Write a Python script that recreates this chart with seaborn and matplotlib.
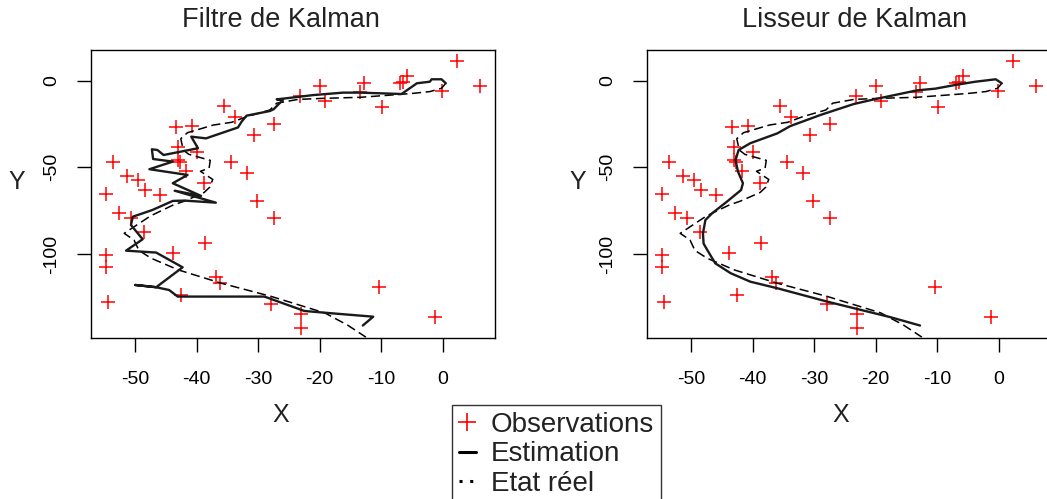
import matplotlib
matplotlib.use("Agg")
import matplotlib.pyplot as plt
from matplotlib.lines import Line2D
import seaborn as sns

# Noisy position measurements (same in both panels)
obs_x = [2.3, 6.0, -0.1, -5.8, -6.4, -7.0, -9.8, -12.8, -13.4, -19.9,
         -19.1, -23.2, -35.6, -33.8, -27.4, -30.7, -43.4, -40.7, -43.0, -39.9,
         -43.0, -42.8, -53.6, -34.4, -41.8, -31.9, -51.4, -49.5, -38.9, -48.4,
         -54.7, -45.9, -30.2, -52.6, -50.7, -27.4, -48.6, -38.6, -54.7, -43.9,
         -54.7, -36.9, -36.3, -10.4, -54.5, -42.6, -28.0, -23.0, -23.0, -1.2]
obs_y = [11.5, -3.3, -5.8, 2.6, -0.5, -1.6, -15.2, -1.2, -6.5, -3.3,
         -11.9, -8.8, -14.6, -21.2, -25.0, -31.6, -26.5, -26.3, -38.5, -41.2,
         -45.5, -47.2, -46.7, -46.7, -52.0, -53.1, -55.2, -57.1, -59.0, -63.3,
         -65.2, -66.0, -69.5, -76.5, -79.1, -79.4, -87.4, -93.5, -100.6, -99.4,
         -107.5, -113.1, -117.0, -119.2, -127.5, -123.7, -129.0, -134.6, -143.0, -136.2]

# True trajectory
true_x = [0.5, -0.2, -2.1, -4.8, -6.9, -13.4, -19.4, -23.5, -27.0, -28.1,
          -31.9, -34.3, -37.3, -41.5, -42.6, -42.2, -41.3, -37.8, -38.0, -39.4,
          -37.4, -37.9, -38.8, -42.0, -43.8, -47.5, -51.8, -50.2, -49.4, -47.4,
          -43.0, -36.0, -27.9, -19.2, -15.5, -12.5]
true_y = [-1.5, -4.4, -6.3, -7.3, -7.9, -9.6, -10.2, -10.8, -13.0, -16.9,
          -20.8, -24.0, -25.6, -30.0, -33.5, -40.0, -42.5, -46.0, -50.5, -52.3,
          -57.0, -61.5, -64.5, -69.5, -71.7, -78.0, -88.1, -92.0, -98.0, -102.5,
          -109.2, -116.9, -124.5, -134.0, -141.0, -148.0]

# Kalman filter estimate
filt_x = [0.5, -0.2, -1.8, -2.1, -4.2, -6.7, -13.4, -16.2, -21.0, -27.0,
          -26.0, -27.5, -28.1, -31.9, -32.7, -33.3, -38.5, -40.9, -39.8, -45.4,
          -46.4, -47.3, -47.1, -43.9, -47.7, -41.5, -43.9, -39.3, -43.6, -36.9,
          -42.0, -43.9, -47.2, -50.4, -50.7, -48.8, -51.5, -46.6, -42.3, -46.6,
          -50.0, -46.6, -44.5, -43.1, -29.0, -22.5, -18.2, -11.3, -13.0]
filt_y = [-1.5, 0.8, 0.8, -0.6, -1.5, -7.7, -6.9, -6.9, -8.3, -10.8,
          -11.1, -16.5, -17.5, -20.2, -23.6, -27.0, -33.3, -32.3, -39.0, -42.9,
          -40.0, -39.6, -45.2, -46.7, -51.1, -54.4, -59.2, -66.5, -63.5, -70.4,
          -69.2, -69.4, -74.6, -78.5, -83.3, -91.5, -98.1, -99.2, -107.7, -119.2,
          -117.9, -119.2, -120.8, -124.6, -124.6, -132.9, -134.2, -136.2, -141.3]

# Kalman smoother estimate
smooth_x = [0.5, -0.5, -3.8, -7.1, -10.3, -13.3, -20.3, -23.6, -29.0, -33.9,
            -36.0, -40.4, -42.3, -42.8, -42.4, -41.6, -41.9, -44.2, -46.6, -47.7,
            -48.1, -48.0, -47.4, -46.1, -43.6, -40.4, -36.0, -27.9, -17.6, -12.8]
smooth_y = [-1.5, 0.8, -0.6, -2.5, -4.6, -5.6, -10.8, -13.5, -19.8, -26.2,
            -30.4, -36.1, -40.0, -45.8, -52.5, -59.2, -63.1, -69.8, -76.5, -80.4,
            -88.1, -94.0, -97.7, -105.4, -111.1, -116.0, -119.8, -127.5, -136.5, -141.3]

x_ticks = [-50, -40, -30, -20, -10, 0]
y_ticks = [0, -50, -100]
titles = ["Filtre de Kalman", "Lisseur de Kalman"]
legend_labels = ["Observations", "Estimation", "Etat réel"]

sns.set_theme(style="ticks")
plt.rcParams["font.family"] = ["Liberation Sans", "DejaVu Sans"]
plt.rcParams["axes.unicode_minus"] = False

W, H = 1047, 499
fig = plt.figure(figsize=(W / 100, H / 100), dpi=100)

def fx(px):
    return px / W

def fy(py):
    return 1 - py / H

panels = [
    dict(left=91, est_x=filt_x, est_y=filt_y, title_x=281, xlab_x=281, ylab_x=17),
    dict(left=647, est_x=smooth_x, est_y=smooth_y, title_x=855, xlab_x=841, ylab_x=578),
]

for p, title in zip(panels, titles):
    ax = fig.add_axes([fx(p["left"]), fy(338), 404 / W, (338 - 50) / H])
    sns.scatterplot(x=obs_x, y=obs_y, ax=ax, marker="+", color="#ff0000",
                    s=110, linewidth=1.1, zorder=2)
    sns.lineplot(x=true_x, y=true_y, ax=ax, sort=False, estimator=None,
                 color="black", linewidth=1.1, linestyle=(0, (6, 3)), zorder=3)
    sns.lineplot(x=p["est_x"], y=p["est_y"], ax=ax, sort=False, estimator=None,
                 color="#1a1a1a", linewidth=1.7, zorder=4)
    ax.set_xlim(-57.2, 8.5)
    ax.set_ylim(-148.5, 17.7)
    ax.set_xticks(x_ticks)
    ax.set_xticklabels([str(v) for v in x_ticks])
    ax.set_yticks(y_ticks)
    ax.set_yticklabels([str(v) for v in y_ticks], rotation=90, va="center")
    ax.tick_params(axis="both", length=10, width=1, color="black",
                   labelsize=14, labelcolor="black")
    ax.tick_params(axis="x", pad=14)
    ax.tick_params(axis="y", pad=12)
    for sp in ax.spines.values():
        sp.set_visible(True)
        sp.set_color("black")
        sp.set_linewidth(1.0)
    ax.set_xlabel("")
    ax.set_ylabel("")
    fig.text(fx(p["title_x"]), fy(20), title, ha="center", va="center",
             fontsize=19.5, color="#222222")
    fig.text(fx(p["xlab_x"]), fy(415), "X", ha="center", va="center",
             fontsize=18, color="#222222")
    fig.text(fx(p["ylab_x"]), fy(182), "Y", ha="center", va="center",
             fontsize=18, color="#222222")

handles = [
    Line2D([], [], color="#ff0000", marker="+", linestyle="none",
           markersize=13, markeredgewidth=1.2),
    Line2D([], [], color="black", linewidth=2.2),
    Line2D([], [], color="black", linewidth=2.2, linestyle=(0, (1, 2.5))),
]
leg = fig.legend(handles, legend_labels, loc="upper left",
                 bbox_to_anchor=(fx(452), fy(405)), borderaxespad=0,
                 frameon=True, fancybox=False, edgecolor="black",
                 fontsize=20, handlelength=0.6, handletextpad=0.55,
                 borderpad=0.25, labelspacing=0.12)
leg.get_frame().set_linewidth(1.0)
for t in leg.get_texts():
    t.set_color("#222222")

fig.savefig("out.png", dpi=100)
